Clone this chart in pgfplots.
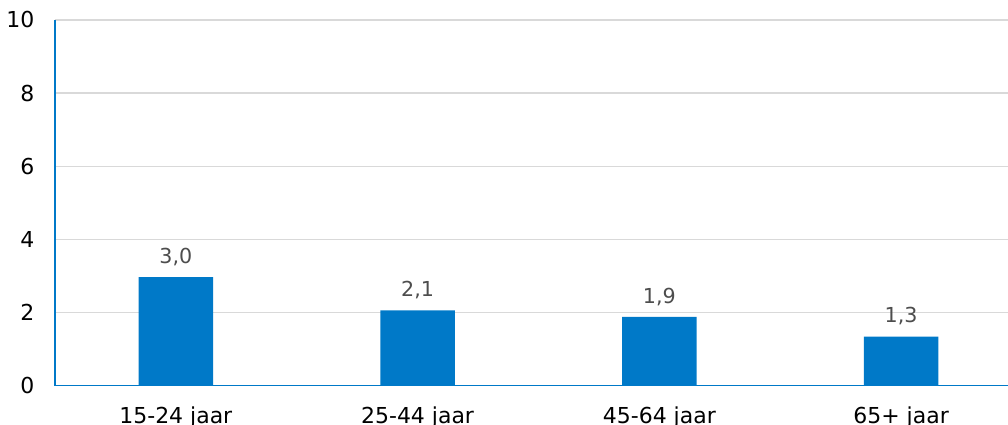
\documentclass[border=0pt]{standalone}
\usepackage{pgfplots}
\pgfplotsset{compat=1.18}
\usepackage{fontspec}
\setmainfont{DejaVu Sans}
\definecolor{barblue}{HTML}{0079C8}
\definecolor{gridgray}{HTML}{D9D9D9}
\definecolor{labgray}{HTML}{4D4D4D}
\begin{document}
\begin{tikzpicture}[x=0.75pt,y=0.75pt]
\begin{axis}[
  scale only axis,
  width=726pt, height=274.5pt,
  ymin=0, ymax=10, ytick={0,2,...,10},
  xmin=-0.5, xmax=3.5,
  xtick={0,1,2,3},
  xticklabels={15-24 jaar,25-44 jaar,45-64 jaar,65+ jaar},
  axis x line*=bottom, axis y line*=left,
  axis line style={barblue, line width=1.2pt},
  x axis line style={-}, y axis line style={-},
  ymajorgrids, grid style={gridgray, line width=1pt},
  major tick length=0pt,
  tick style={draw=none},
  ticklabel style={font=\fontsize{16.5}{19}\selectfont, text=black},
  yticklabel style={xshift=-12pt},
  xticklabel style={yshift=-12pt},
  /pgf/number format/assume math mode=true,
  ybar, bar width=56pt,
  nodes near coords,
  nodes near coords style={font=\fontsize{15.5}{18}\selectfont, text=labgray, yshift=5pt,
    /pgf/number format/.cd, use comma, fixed, fixed zerofill, precision=1},
  clip=false,
]
\addplot[fill=barblue, draw=none] coordinates {(0,2.97) (1,2.06) (2,1.88) (3,1.34)};
\coordinate (sw) at (rel axis cs:0,0);
\coordinate (ne) at (rel axis cs:1,1);
\end{axis}
\pgfresetboundingbox
\path[use as bounding box] ([xshift=-41.25pt,yshift=-29.25pt]sw) rectangle ([xshift=-10.5pt,yshift=15pt]ne);
\end{tikzpicture}
\end{document}
